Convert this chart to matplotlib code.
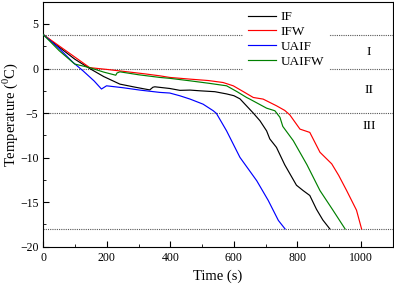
import matplotlib
matplotlib.use("Agg")
import matplotlib.pyplot as plt
from matplotlib.ticker import MultipleLocator

plt.rcParams['font.family'] = ['Liberation Serif', 'DejaVu Serif']
plt.rcParams['mathtext.fontset'] = 'custom'
plt.rcParams['mathtext.rm'] = 'Liberation Serif'

# Data (time in s, temperature in deg C)
if_t = [0, 50, 99, 146, 190, 241, 290, 335, 345, 351, 398, 430, 462, 493, 540, 577, 600, 619, 640, 661, 682, 703, 713, 734, 760, 797, 818, 839, 860, 880, 902]
if_T = [3.8, 2.4, 1.05, 0.0, -0.9, -1.75, -2.1, -2.4, -2.1, -2.05, -2.24, -2.45, -2.42, -2.5, -2.6, -2.85, -3.05, -3.4, -4.2, -5.0, -5.86, -7.0, -7.9, -8.85, -10.8, -13.1, -13.7, -14.25, -15.8, -17.0, -18.0]

ifw_t = [0, 146, 200, 260, 320, 367, 398, 462, 520, 566, 598, 630, 661, 692, 734, 760, 776, 808, 839, 871, 908, 930, 955, 986, 1002]
ifw_T = [3.8, 0.1, -0.1, -0.35, -0.6, -0.82, -1.0, -1.19, -1.35, -1.57, -1.94, -2.6, -3.25, -3.43, -4.18, -4.7, -5.2, -6.8, -7.17, -9.4, -10.7, -12.0, -13.7, -15.9, -18.0]

uaif_t = [0, 52, 94, 125, 160, 183, 199, 250, 304, 367, 398, 430, 462, 503, 535, 545, 577, 619, 672, 708, 740, 761]
uaif_T = [3.8, 2.17, 0.67, -0.26, -1.4, -2.3, -1.94, -2.15, -2.42, -2.68, -2.75, -3.06, -3.43, -4.0, -4.74, -5.04, -7.0, -9.97, -12.6, -14.8, -17.05, -18.0]

uaifw_t = [0, 50, 99, 146, 190, 228, 232, 241, 300, 367, 398, 462, 520, 577, 610, 640, 650, 703, 729, 745, 754, 787, 830, 871, 910, 950]
uaifw_T = [3.8, 2.0, 0.5, 0.1, -0.4, -0.75, -0.5, -0.37, -0.7, -1.0, -1.1, -1.38, -1.65, -1.94, -2.6, -3.25, -3.43, -4.45, -4.74, -5.48, -6.5, -8.1, -10.8, -13.7, -15.8, -18.0]

ref_levels = [3.8, 0, -5, -18]
zone_labels = ['I', 'II', 'III']
zone_y = [1.87, -2.4, -6.5]

fig = plt.figure(figsize=(3.94, 2.86), dpi=100)
ax = fig.add_axes([0.110, 0.1374, 0.8867, 0.8566])

for lv in ref_levels:
    ax.axhline(lv, color='#555555', linestyle=(0, (1, 1)), linewidth=0.8, zorder=1)

ax.plot(if_t, if_T, color='black', lw=0.85, label='IF', zorder=3)
ax.plot(ifw_t, ifw_T, color='red', lw=0.85, label='IFW', zorder=3)
ax.plot(uaif_t, uaif_T, color='blue', lw=0.85, label='UAIF', zorder=3)
ax.plot(uaifw_t, uaifw_T, color='#008000', lw=0.85, label='UAIFW', zorder=3)

for lab, yy in zip(zone_labels, zone_y):
    ax.text(1025, yy, lab, ha='center', va='center', fontsize=9.5)

ax.set_xlim(0, 1100)
ax.set_ylim(-20, 7.5)
ax.xaxis.set_major_locator(MultipleLocator(200))
ax.xaxis.set_minor_locator(MultipleLocator(100))
ax.yaxis.set_major_locator(MultipleLocator(5))
ax.yaxis.set_minor_locator(MultipleLocator(2.5))
ax.tick_params(which='both', direction='in', top=False, right=False, labelsize=8.5)
ax.tick_params(which='major', length=4)
ax.tick_params(which='minor', length=2.5)
ax.set_xlabel('Time (s)', fontsize=10.5, labelpad=4)
ax.set_ylabel(r'Temperature ($^{\rm 0}$C)', fontsize=10.5)
ax.yaxis.set_label_coords(-0.066, 0.54)

leg = ax.legend(loc='upper right', bbox_to_anchor=(0.83, 1.0), frameon=True, fontsize=9.5,
                handlelength=2.1, handletextpad=0.35, labelspacing=0.2, borderaxespad=0.3,
                fancybox=False)
leg.get_frame().set_edgecolor('none')
leg.get_frame().set_facecolor('white')
leg.get_frame().set_alpha(1)
leg.set_zorder(5)

fig.savefig('out.png', dpi=100)
